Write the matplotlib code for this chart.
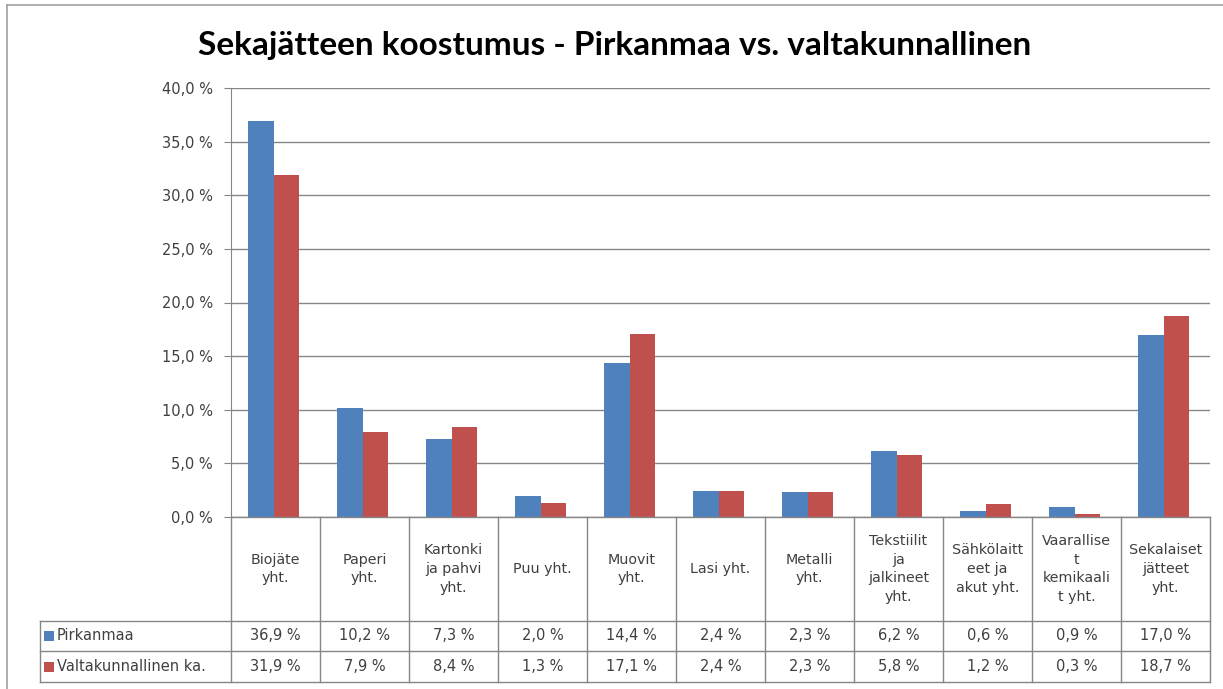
import matplotlib
matplotlib.use("Agg")
import matplotlib.pyplot as plt
from matplotlib.lines import Line2D
from matplotlib.patches import Rectangle
import numpy as np

categories = ["Biojäte\nyht.", "Paperi\nyht.", "Kartonki\nja pahvi\nyht.", "Puu yht.",
              "Muovit\nyht.", "Lasi yht.", "Metalli\nyht.", "Tekstiilit\nja\njalkineet\nyht.",
              "Sähkölaitt\neet ja\nakut yht.", "Vaarallise\nt\nkemikaali\nt yht.",
              "Sekalaiset\njätteet\nyht."]
series_names = ["Pirkanmaa", "Valtakunnallinen ka."]
pirkanmaa = [36.9, 10.2, 7.3, 2.0, 14.4, 2.4, 2.3, 6.2, 0.6, 0.9, 17.0]
valtakunnallinen = [31.9, 7.9, 8.4, 1.3, 17.1, 2.4, 2.3, 5.8, 1.2, 0.3, 18.7]
yticks = [0, 5, 10, 15, 20, 25, 30, 35, 40]
title = "Sekajätteen koostumus - Pirkanmaa vs. valtakunnallinen"

colors = ["#4F81BD", "#C0504D"]
grid_c = "#868686"
text_c = "#404040"
W, H = 1223, 689

fig = plt.figure(figsize=(W / 100, H / 100), dpi=100)

def fx(px):
    return px / W

def fy(py):
    return 1 - py / H

ax_l, ax_r, ax_t, ax_b = 231, 1210, 88, 517
ax = fig.add_axes([fx(ax_l), fy(ax_b), fx(ax_r - ax_l), (ax_b - ax_t) / H])
n = len(categories)
x = np.arange(n)
bw = 0.285
ax.bar(x - bw / 2 - 0.02, pirkanmaa, bw, color=colors[0], zorder=3)
ax.bar(x + bw / 2 - 0.02, valtakunnallinen, bw, color=colors[1], zorder=3)
ax.set_xlim(-0.5, n - 0.5)
ax.set_ylim(0, 40)
ax.set_yticks(yticks)
ax.set_yticklabels([f"{v:.1f} %".replace(".", ",") for v in yticks],
                   fontsize=10.5, color=text_c)
ax.yaxis.grid(True, color=grid_c, linewidth=1.0, zorder=0)
ax.tick_params(axis="y", length=5, color=grid_c, pad=8)
ax.set_xticks([])
for s in ["top", "right", "bottom"]:
    ax.spines[s].set_visible(False)
ax.spines["left"].set_color(grid_c)

# data table
tab_top, row1, row2, tab_bot = 517, 621, 651, 682
leg_l = 40
col_w = (ax_r - ax_l) / n
line_kw = dict(color=grid_c, linewidth=1.0, transform=fig.transFigure)
fig.add_artist(Line2D([fx(ax_l), fx(ax_r)], [fy(tab_top)] * 2, **line_kw))
for yy in (row1, row2, tab_bot):
    fig.add_artist(Line2D([fx(leg_l), fx(ax_r)], [fy(yy)] * 2, **line_kw))
for i in range(n + 1):
    xx = ax_l + i * col_w
    fig.add_artist(Line2D([fx(xx)] * 2, [fy(tab_top), fy(tab_bot)], **line_kw))
fig.add_artist(Line2D([fx(leg_l)] * 2, [fy(row1), fy(tab_bot)], **line_kw))

for i, lab in enumerate(categories):
    cx = ax_l + (i + 0.5) * col_w
    fig.text(fx(cx), fy((tab_top + row1) / 2), lab, ha="center", va="center",
             fontsize=10.3, color=text_c, linespacing=1.45)

for r, (vals, name, col) in enumerate(zip([pirkanmaa, valtakunnallinen], series_names, colors)):
    ytop = [row1, row2][r]
    ybot = [row2, tab_bot][r]
    cy = (ytop + ybot) / 2
    fig.add_artist(Rectangle((fx(leg_l + 4), fy(cy + 5)), fx(10), 10 / H,
                             facecolor=col, edgecolor="none", transform=fig.transFigure))
    fig.text(fx(leg_l + 17), fy(cy), name, ha="left", va="center",
             fontsize=10.5, color=text_c)
    for i, v in enumerate(vals):
        cx = ax_l + (i + 0.5) * col_w
        fig.text(fx(cx), fy(cy), f"{v:.1f} %".replace(".", ","), ha="center",
                 va="center", fontsize=10.5, color=text_c)

# outer chart border (left and top visible)
fig.add_artist(Line2D([fx(7), fx(7)], [fy(5), 0], color="#A0A0A0", linewidth=1.2,
                      transform=fig.transFigure))
fig.add_artist(Line2D([fx(7), 1], [fy(5), fy(5)], color="#A0A0A0", linewidth=1.2,
                      transform=fig.transFigure))

fig.text(fx(615), fy(45), title, ha="center", va="center", fontsize=24,
         fontweight="bold", family="Lato", color="black")

fig.savefig("out.png", dpi=100)
